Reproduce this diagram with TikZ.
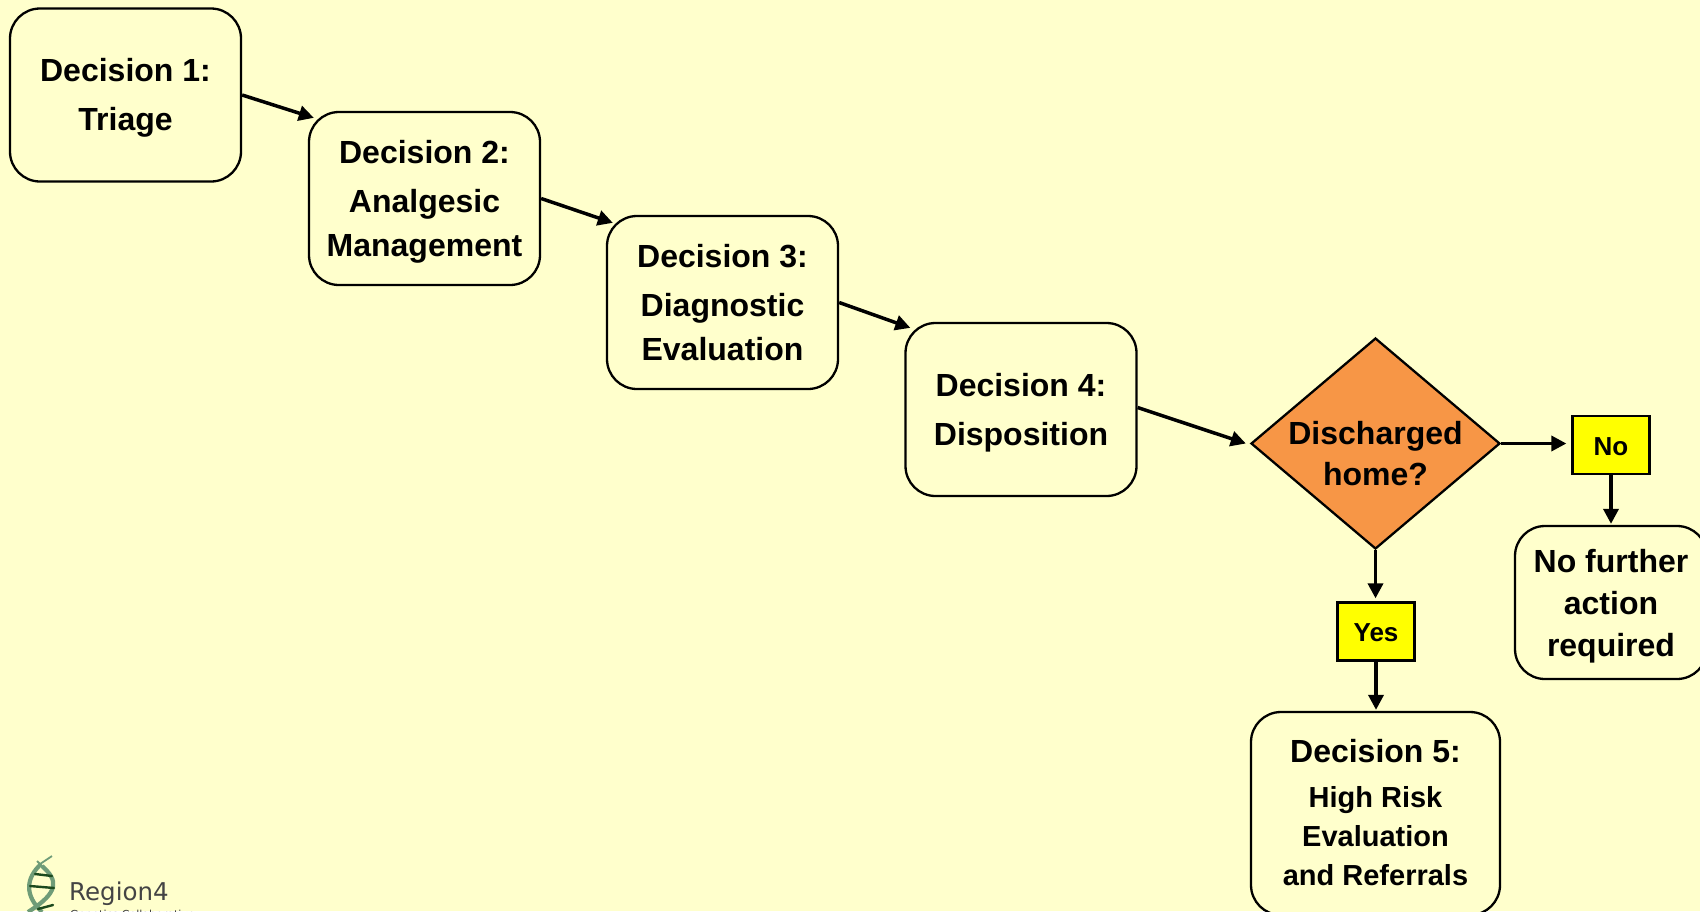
\documentclass[tikz,border=0pt]{standalone}
\usepackage{fontspec}
\setmainfont{Liberation Sans}
\newfontfamily\logofont{DejaVu Sans}
\usetikzlibrary{shapes.geometric,arrows.meta}
\definecolor{bgc}{HTML}{FFFFCC}
\definecolor{orangec}{HTML}{F79646}
\definecolor{flagc}{HTML}{FFFF00}
\definecolor{strandc}{HTML}{6F9C78}
\definecolor{rungc}{HTML}{1C4A1E}
\definecolor{logotext}{HTML}{444444}
\newcommand{\fs}[1]{\fontsize{#1}{#1}\selectfont\bfseries}
\newcommand{\topup}[1]{\rule{0pt}{#1}}
\tikzset{
  box/.style={draw=black,line width=2.3pt,fill=bgc,rounded corners=30pt,minimum width=231pt,minimum height=173pt,inner sep=0pt,align=center,font=\fs{32}},
  flag/.style={draw=black,line width=2.3pt,fill=flagc,minimum width=77pt,minimum height=58pt,inner sep=0pt,font=\fs{26}},
  link/.style={line width=3.5pt,-{Triangle[length=15pt,width=15pt]}},
  strand/.style={draw=strandc,line width=4.2pt},
  rung/.style={draw=rungc,line width=2.4pt,line cap=round},
}
\begin{document}
\begin{tikzpicture}[x=1pt,y=-1pt]
\useasboundingbox (0,0) rectangle (1700,911);
\clip (0,0) rectangle (1700,911);
\fill[bgc] (0,0) rectangle (1700,911);
\node[box] (d1) at (125.5,95) {\topup{28pt}Decision 1:\\[17pt]Triage};
\node[box] (d2) at (424.5,198.5) {\topup{30pt}Decision 2:\\[17pt]Analgesic\\[12pt]Management};
\node[box] (d3) at (722.5,302.5) {Decision 3:\\[17pt]Diagnostic\\[12pt]Evaluation};
\node[box] (d4) at (1021,409.5) {\topup{30pt}Decision 4:\\[17pt]Disposition};
\node[diamond,draw=black,line width=2.3pt,fill=orangec,aspect=1.186,minimum width=249pt,minimum height=211pt,inner sep=0pt] (q) at (1375.5,443.5) {};
\node[align=center,font=\fs{32},inner sep=0pt] (qt) at ([yshift=-10.5pt]q.center) {Discharged\\[9pt]home?};
\node[flag] (no) at (1611,445) {\topup{21pt}No};
\node[flag] (yes) at (1376,631.5) {\topup{21pt}Yes};
\node[box,minimum width=192pt,minimum height=153pt] (nf) at (1611,602.5) {\topup{30pt}No further\\[10pt]action\\[10pt]required};
\node[box,minimum width=249pt,minimum height=203pt,font=\fs{29}] (d5) at (1375.5,813.5) {\fs{32}Decision 5:\\[16.2pt]High Risk\\[10pt]Evaluation\\[10pt]and Referrals\rule[-2.6pt]{0pt}{1pt}};
\draw[link] (d1.east) -- ([xshift=6pt,yshift=-7pt]d2.north west);
\draw[link] (d2.east) -- ([xshift=7pt,yshift=-8pt]d3.north west);
\draw[link] (d3.east) -- ([xshift=6pt,yshift=-6pt]d4.north west);
\draw[link] ([yshift=2pt]d4.east) -- ([xshift=-4pt]q.west);
\draw[link] (q.east) -- ([xshift=-5pt]no.west |- q.east);
\draw[link] (no.south) -- ([yshift=1pt]nf.north);
\draw[link] (q.south) -- ([yshift=3pt]yes.north -| q.south);
\draw[link] (yes.south) -- ([yshift=1pt]d5.north -| yes.south);
% logo
\draw[strand,line width=1.8pt] (52,856) -- (40,864);
\draw[strand,line width=1.8pt] (37,861) -- (44,868);
\draw[strand] (41,864) .. controls (26,878) and (24,895) .. (42,912);
\draw[strand] (42,866) .. controls (58,880) and (60,892) .. (28,912);
\draw[rung] (35,874) -- (52,876);
\draw[rung] (30,886) -- (54,888);
\draw[rung] (38,909) -- (53,905);
\node[anchor=base west,inner sep=0pt,font=\logofont\fontsize{24.5}{25}\selectfont,text=logotext] (lg) at (69,900) {Region4};
\node[anchor=base west,inner sep=0pt,font=\logofont\fontsize{11}{11}\selectfont,text=logotext] (lg2) at (70,918) {Genetics Collaborative};
\end{tikzpicture}
\end{document}
